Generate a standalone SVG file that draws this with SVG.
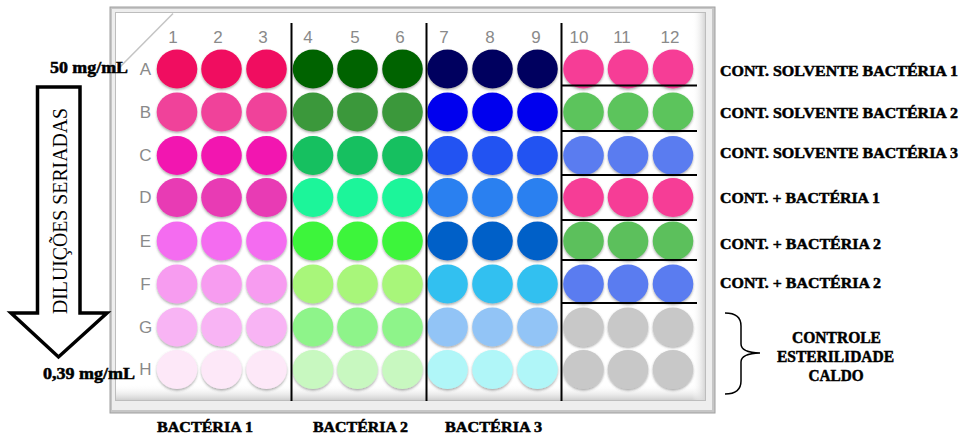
<svg xmlns="http://www.w3.org/2000/svg" width="968" height="439" viewBox="0 0 968 439">
<style>
.lbl{font-family:"Liberation Sans",Arial,sans-serif;font-size:17px;fill:#8a8a8a;text-anchor:middle}
.bold{font-family:"Liberation Serif","Times New Roman",serif;font-weight:bold;fill:#000;stroke:#000;stroke-width:0.5}
.sep{stroke:#000;stroke-width:2;fill:none}
.w{stroke:none}
</style>
<defs>
<filter id="sh" x="-20%" y="-20%" width="140%" height="150%">
<feDropShadow dx="0" dy="1.5" stdDeviation="0.8" flood-color="#444" flood-opacity="0.45"/>
</filter>
<linearGradient id="gb" x1="0" y1="0" x2="0" y2="1">
<stop offset="0" stop-color="#fff" stop-opacity="0"/>
<stop offset="1" stop-color="#cfcfcf"/>
</linearGradient>
<linearGradient id="gr" x1="0" y1="0" x2="1" y2="0">
<stop offset="0" stop-color="#fff" stop-opacity="0"/>
<stop offset="1" stop-color="#d6d6d6"/>
</linearGradient>
</defs>
<rect width="968" height="439" fill="#fff"/>

<g id="plate">
<rect x="110" y="7" width="605" height="406" fill="#c6c6c6" stroke="#a0a0a0"/>
<rect x="112" y="9" width="600" height="401" fill="#eeeeee"/>
<rect x="115.5" y="12.5" width="590" height="388" fill="#fff" stroke="#bdbdbd"/>
<rect x="116" y="384" width="589" height="16" fill="url(#gb)"/>
<rect x="692" y="13" width="13" height="387" fill="url(#gr)"/>
<line x1="173" y1="13.5" x2="118" y2="69" stroke="#c4c4c4" stroke-width="1.5"/>
</g>

<g id="column-labels">
<text class="lbl" x="173" y="43">1</text>
<text class="lbl" x="218" y="43">2</text>
<text class="lbl" x="263" y="43">3</text>
<text class="lbl" x="308" y="43">4</text>
<text class="lbl" x="355" y="43">5</text>
<text class="lbl" x="400" y="43">6</text>
<text class="lbl" x="444" y="43">7</text>
<text class="lbl" x="490" y="43">8</text>
<text class="lbl" x="536" y="43">9</text>
<text class="lbl" x="579" y="43">10</text>
<text class="lbl" x="622" y="43">11</text>
<text class="lbl" x="670" y="43">12</text>
</g>

<g id="row-labels">
<text class="lbl" x="145.5" y="74.5">A</text>
<text class="lbl" x="145.5" y="117.5">B</text>
<text class="lbl" x="145.5" y="161">C</text>
<text class="lbl" x="145.5" y="203">D</text>
<text class="lbl" x="145.5" y="246.5">E</text>
<text class="lbl" x="145.5" y="289.5">F</text>
<text class="lbl" x="145.5" y="332.5">G</text>
<text class="lbl" x="145.5" y="375">H</text>
</g>

<g id="wells-bacteria-1" filter="url(#sh)">
<ellipse class="w" cx="177" cy="69" rx="20.3" ry="19.5" fill="#f00a60"/><ellipse class="w" cx="221.5" cy="69" rx="20.3" ry="19.5" fill="#f00a60"/><ellipse class="w" cx="266.5" cy="69" rx="20.3" ry="19.5" fill="#f00a60"/>
<ellipse class="w" cx="177" cy="112" rx="20.3" ry="19.5" fill="#f0429a"/><ellipse class="w" cx="221.5" cy="112" rx="20.3" ry="19.5" fill="#f0429a"/><ellipse class="w" cx="266.5" cy="112" rx="20.3" ry="19.5" fill="#f0429a"/>
<ellipse class="w" cx="177" cy="155.5" rx="20.3" ry="19.5" fill="#f219b0"/><ellipse class="w" cx="221.5" cy="155.5" rx="20.3" ry="19.5" fill="#f219b0"/><ellipse class="w" cx="266.5" cy="155.5" rx="20.3" ry="19.5" fill="#f219b0"/>
<ellipse class="w" cx="177" cy="197.5" rx="20.3" ry="19.5" fill="#e83ab4"/><ellipse class="w" cx="221.5" cy="197.5" rx="20.3" ry="19.5" fill="#e83ab4"/><ellipse class="w" cx="266.5" cy="197.5" rx="20.3" ry="19.5" fill="#e83ab4"/>
<ellipse class="w" cx="177" cy="241" rx="20.3" ry="19.5" fill="#f46cf0"/><ellipse class="w" cx="221.5" cy="241" rx="20.3" ry="19.5" fill="#f46cf0"/><ellipse class="w" cx="266.5" cy="241" rx="20.3" ry="19.5" fill="#f46cf0"/>
<ellipse class="w" cx="177" cy="284" rx="20.3" ry="19.5" fill="#f79cf0"/><ellipse class="w" cx="221.5" cy="284" rx="20.3" ry="19.5" fill="#f79cf0"/><ellipse class="w" cx="266.5" cy="284" rx="20.3" ry="19.5" fill="#f79cf0"/>
<ellipse class="w" cx="177" cy="327" rx="20.3" ry="19.5" fill="#f8b4f4"/><ellipse class="w" cx="221.5" cy="327" rx="20.3" ry="19.5" fill="#f8b4f4"/><ellipse class="w" cx="266.5" cy="327" rx="20.3" ry="19.5" fill="#f8b4f4"/>
<ellipse class="w" cx="177" cy="369.5" rx="20.3" ry="19.5" fill="#fde8f8"/><ellipse class="w" cx="221.5" cy="369.5" rx="20.3" ry="19.5" fill="#fde8f8"/><ellipse class="w" cx="266.5" cy="369.5" rx="20.3" ry="19.5" fill="#fde8f8"/>
</g>

<g id="wells-bacteria-2" filter="url(#sh)">
<ellipse class="w" cx="313" cy="69" rx="20.3" ry="19.5" fill="#006400"/><ellipse class="w" cx="357.5" cy="69" rx="20.3" ry="19.5" fill="#006400"/><ellipse class="w" cx="402.5" cy="69" rx="20.3" ry="19.5" fill="#006400"/>
<ellipse class="w" cx="313" cy="112" rx="20.3" ry="19.5" fill="#3a983a"/><ellipse class="w" cx="357.5" cy="112" rx="20.3" ry="19.5" fill="#3a983a"/><ellipse class="w" cx="402.5" cy="112" rx="20.3" ry="19.5" fill="#3a983a"/>
<ellipse class="w" cx="313" cy="155.5" rx="20.3" ry="19.5" fill="#12c060"/><ellipse class="w" cx="357.5" cy="155.5" rx="20.3" ry="19.5" fill="#12c060"/><ellipse class="w" cx="402.5" cy="155.5" rx="20.3" ry="19.5" fill="#12c060"/>
<ellipse class="w" cx="313" cy="197.5" rx="20.3" ry="19.5" fill="#1cf59a"/><ellipse class="w" cx="357.5" cy="197.5" rx="20.3" ry="19.5" fill="#1cf59a"/><ellipse class="w" cx="402.5" cy="197.5" rx="20.3" ry="19.5" fill="#1cf59a"/>
<ellipse class="w" cx="313" cy="241" rx="20.3" ry="19.5" fill="#3ef53a"/><ellipse class="w" cx="357.5" cy="241" rx="20.3" ry="19.5" fill="#3ef53a"/><ellipse class="w" cx="402.5" cy="241" rx="20.3" ry="19.5" fill="#3ef53a"/>
<ellipse class="w" cx="313" cy="284" rx="20.3" ry="19.5" fill="#a8f67a"/><ellipse class="w" cx="357.5" cy="284" rx="20.3" ry="19.5" fill="#a8f67a"/><ellipse class="w" cx="402.5" cy="284" rx="20.3" ry="19.5" fill="#a8f67a"/>
<ellipse class="w" cx="313" cy="327" rx="20.3" ry="19.5" fill="#8ef48a"/><ellipse class="w" cx="357.5" cy="327" rx="20.3" ry="19.5" fill="#8ef48a"/><ellipse class="w" cx="402.5" cy="327" rx="20.3" ry="19.5" fill="#8ef48a"/>
<ellipse class="w" cx="313" cy="369.5" rx="20.3" ry="19.5" fill="#c8f8c0"/><ellipse class="w" cx="357.5" cy="369.5" rx="20.3" ry="19.5" fill="#c8f8c0"/><ellipse class="w" cx="402.5" cy="369.5" rx="20.3" ry="19.5" fill="#c8f8c0"/>
</g>

<g id="wells-bacteria-3" filter="url(#sh)">
<ellipse class="w" cx="447.5" cy="69" rx="20.3" ry="19.5" fill="#00005e"/><ellipse class="w" cx="492.5" cy="69" rx="20.3" ry="19.5" fill="#00005e"/><ellipse class="w" cx="537.5" cy="69" rx="20.3" ry="19.5" fill="#00005e"/>
<ellipse class="w" cx="447.5" cy="112" rx="20.3" ry="19.5" fill="#0000ee"/><ellipse class="w" cx="492.5" cy="112" rx="20.3" ry="19.5" fill="#0000ee"/><ellipse class="w" cx="537.5" cy="112" rx="20.3" ry="19.5" fill="#0000ee"/>
<ellipse class="w" cx="447.5" cy="155.5" rx="20.3" ry="19.5" fill="#2052f2"/><ellipse class="w" cx="492.5" cy="155.5" rx="20.3" ry="19.5" fill="#2052f2"/><ellipse class="w" cx="537.5" cy="155.5" rx="20.3" ry="19.5" fill="#2052f2"/>
<ellipse class="w" cx="447.5" cy="197.5" rx="20.3" ry="19.5" fill="#2a80f0"/><ellipse class="w" cx="492.5" cy="197.5" rx="20.3" ry="19.5" fill="#2a80f0"/><ellipse class="w" cx="537.5" cy="197.5" rx="20.3" ry="19.5" fill="#2a80f0"/>
<ellipse class="w" cx="447.5" cy="241" rx="20.3" ry="19.5" fill="#0060c8"/><ellipse class="w" cx="492.5" cy="241" rx="20.3" ry="19.5" fill="#0060c8"/><ellipse class="w" cx="537.5" cy="241" rx="20.3" ry="19.5" fill="#0060c8"/>
<ellipse class="w" cx="447.5" cy="284" rx="20.3" ry="19.5" fill="#30c0f0"/><ellipse class="w" cx="492.5" cy="284" rx="20.3" ry="19.5" fill="#30c0f0"/><ellipse class="w" cx="537.5" cy="284" rx="20.3" ry="19.5" fill="#30c0f0"/>
<ellipse class="w" cx="447.5" cy="327" rx="20.3" ry="19.5" fill="#92c4f6"/><ellipse class="w" cx="492.5" cy="327" rx="20.3" ry="19.5" fill="#92c4f6"/><ellipse class="w" cx="537.5" cy="327" rx="20.3" ry="19.5" fill="#92c4f6"/>
<ellipse class="w" cx="447.5" cy="369.5" rx="20.3" ry="19.5" fill="#b0f6f8"/><ellipse class="w" cx="492.5" cy="369.5" rx="20.3" ry="19.5" fill="#b0f6f8"/><ellipse class="w" cx="537.5" cy="369.5" rx="20.3" ry="19.5" fill="#b0f6f8"/>
</g>

<g id="wells-controls" filter="url(#sh)">
<ellipse class="w" cx="583.5" cy="69" rx="20.3" ry="19.5" fill="#f63c96"/><ellipse class="w" cx="628" cy="69" rx="20.3" ry="19.5" fill="#f63c96"/><ellipse class="w" cx="673" cy="69" rx="20.3" ry="19.5" fill="#f63c96"/>
<ellipse class="w" cx="583.5" cy="112" rx="20.3" ry="19.5" fill="#5cc45c"/><ellipse class="w" cx="628" cy="112" rx="20.3" ry="19.5" fill="#5cc45c"/><ellipse class="w" cx="673" cy="112" rx="20.3" ry="19.5" fill="#5cc45c"/>
<ellipse class="w" cx="583.5" cy="155.5" rx="20.3" ry="19.5" fill="#5a7cf0"/><ellipse class="w" cx="628" cy="155.5" rx="20.3" ry="19.5" fill="#5a7cf0"/><ellipse class="w" cx="673" cy="155.5" rx="20.3" ry="19.5" fill="#5a7cf0"/>
<ellipse class="w" cx="583.5" cy="197.5" rx="20.3" ry="19.5" fill="#f63c96"/><ellipse class="w" cx="628" cy="197.5" rx="20.3" ry="19.5" fill="#f63c96"/><ellipse class="w" cx="673" cy="197.5" rx="20.3" ry="19.5" fill="#f63c96"/>
<ellipse class="w" cx="583.5" cy="241" rx="20.3" ry="19.5" fill="#5cc05c"/><ellipse class="w" cx="628" cy="241" rx="20.3" ry="19.5" fill="#5cc05c"/><ellipse class="w" cx="673" cy="241" rx="20.3" ry="19.5" fill="#5cc05c"/>
<ellipse class="w" cx="583.5" cy="284" rx="20.3" ry="19.5" fill="#5a7cf0"/><ellipse class="w" cx="628" cy="284" rx="20.3" ry="19.5" fill="#5a7cf0"/><ellipse class="w" cx="673" cy="284" rx="20.3" ry="19.5" fill="#5a7cf0"/>
<ellipse class="w" cx="583.5" cy="327" rx="20.3" ry="19.5" fill="#c8c8c8"/><ellipse class="w" cx="628" cy="327" rx="20.3" ry="19.5" fill="#c8c8c8"/><ellipse class="w" cx="673" cy="327" rx="20.3" ry="19.5" fill="#c8c8c8"/>
<ellipse class="w" cx="583.5" cy="369.5" rx="20.3" ry="19.5" fill="#c8c8c8"/><ellipse class="w" cx="628" cy="369.5" rx="20.3" ry="19.5" fill="#c8c8c8"/><ellipse class="w" cx="673" cy="369.5" rx="20.3" ry="19.5" fill="#c8c8c8"/>
</g>

<g id="connectors">
<line class="sep" x1="291.5" y1="23" x2="291.5" y2="401"/>
<line class="sep" x1="426.5" y1="23" x2="426.5" y2="401"/>
<line class="sep" x1="561.5" y1="23" x2="561.5" y2="401"/>
<line class="sep" x1="561.5" y1="85.5" x2="697" y2="85.5"/>
<line class="sep" x1="561.5" y1="131" x2="697" y2="131"/>
<line class="sep" x1="561.5" y1="175" x2="697" y2="175"/>
<line class="sep" x1="561.5" y1="220" x2="697" y2="220"/>
<line class="sep" x1="561.5" y1="260" x2="697" y2="260"/>
<line class="sep" x1="561.5" y1="303" x2="697" y2="303"/>
<path d="M725,313 Q741,313 741,326 L741,344 Q741,352.5 760,353 Q741,353.5 741,362 L741,381 Q741,394 725,394" fill="none" stroke="#000" stroke-width="1.5"/>
</g>

<g id="dilution-arrow">
<polygon points="37.5,87 80,87 80,313 107,313 58.5,357 11,313 37.5,313" fill="#fff" stroke="#000" stroke-width="3.5" stroke-linejoin="miter"/>
<text transform="translate(67,211) rotate(-90)" text-anchor="middle" font-family="'Liberation Serif','Times New Roman',serif" font-size="21" textLength="206" lengthAdjust="spacingAndGlyphs" fill="#000">DILUIÇÕES SERIADAS</text>
</g>

<g id="concentration-labels">
<text class="bold" x="50" y="73" font-size="16" textLength="78" lengthAdjust="spacingAndGlyphs">50 mg/mL</text>
<text class="bold" x="43" y="379" font-size="16" textLength="92" lengthAdjust="spacingAndGlyphs">0,39 mg/mL</text>
</g>

<g id="control-labels">
<text class="bold" x="720" y="76" font-size="15.5" textLength="238" lengthAdjust="spacingAndGlyphs">CONT. SOLVENTE BACTÉRIA 1</text>
<text class="bold" x="720" y="117.5" font-size="15.5" textLength="238" lengthAdjust="spacingAndGlyphs">CONT. SOLVENTE BACTÉRIA 2</text>
<text class="bold" x="720" y="158" font-size="15.5" textLength="238" lengthAdjust="spacingAndGlyphs">CONT. SOLVENTE BACTÉRIA 3</text>
<text class="bold" x="720" y="203" font-size="15.5" textLength="160" lengthAdjust="spacingAndGlyphs">CONT. + BACTÉRIA 1</text>
<text class="bold" x="720" y="248.5" font-size="15.5" textLength="161" lengthAdjust="spacingAndGlyphs">CONT. + BACTÉRIA 2</text>
<text class="bold" x="720" y="287.5" font-size="15.5" textLength="161" lengthAdjust="spacingAndGlyphs">CONT. + BACTÉRIA 2</text>
</g>

<g id="sterility-label">
<text class="bold" x="836.5" y="342.5" font-size="16" text-anchor="middle" textLength="89" lengthAdjust="spacingAndGlyphs">CONTROLE</text>
<text class="bold" x="835.5" y="362" font-size="16" text-anchor="middle" textLength="117" lengthAdjust="spacingAndGlyphs">ESTERILIDADE</text>
<text class="bold" x="836" y="381" font-size="16" text-anchor="middle" textLength="55" lengthAdjust="spacingAndGlyphs">CALDO</text>
</g>

<g id="bacteria-labels">
<text class="bold" x="205" y="432" font-size="15" text-anchor="middle" textLength="96" lengthAdjust="spacingAndGlyphs">BACTÉRIA 1</text>
<text class="bold" x="360.5" y="432" font-size="15" text-anchor="middle" textLength="95" lengthAdjust="spacingAndGlyphs">BACTÉRIA 2</text>
<text class="bold" x="493.5" y="432" font-size="15" text-anchor="middle" textLength="97" lengthAdjust="spacingAndGlyphs">BACTÉRIA 3</text>
</g>
</svg>
